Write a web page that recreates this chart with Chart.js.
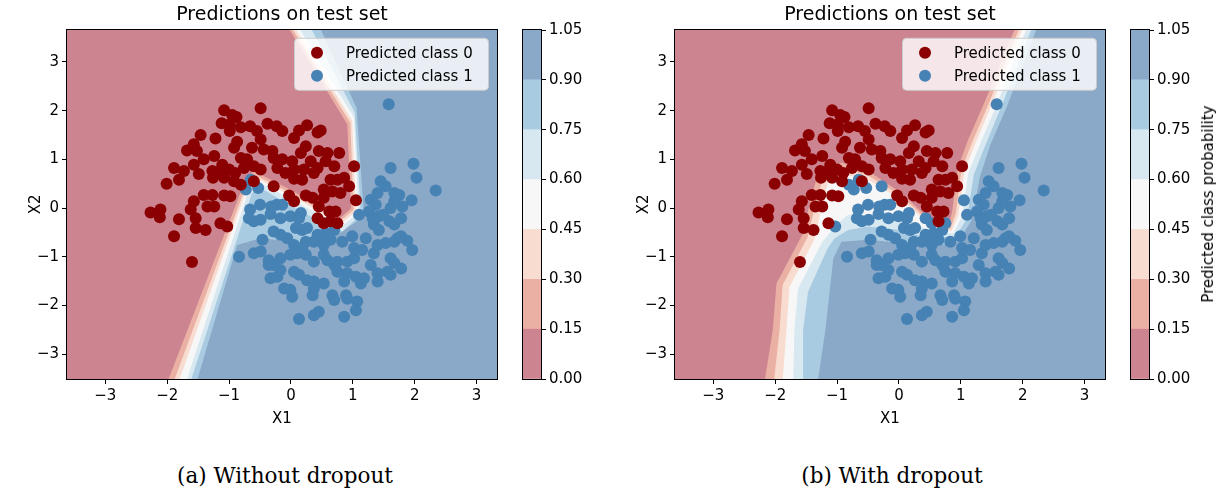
<!DOCTYPE html>
<html>
<head>
<meta charset="utf-8">
<script src="https://cdn.jsdelivr.net/npm/chart.js@4.4.0/dist/chart.umd.min.js"></script>
<style>
    body { margin: 0; background: #fff; width: 1224px; height: 495px; overflow: hidden; position: relative; }
    canvas { position: absolute; top: 0; }
    .cap { position: absolute; top: 463px; width: 400px; text-align: center; font-family: 'DejaVu Serif', serif; font-size: 21.5px; color: #000; }
    .cblabel { position: absolute; left: 1208px; top: 204px; transform: translate(-50%, -50%) rotate(-90deg); white-space: nowrap; font-family: 'DejaVu Sans', sans-serif; font-size: 15px; color: #000; }
</style>
</head>
<body>
<canvas id="plotA" width="515" height="440" style="left:0px"></canvas>
<canvas id="cbarA" width="100" height="440" style="left:500px"></canvas>
<canvas id="plotB" width="515" height="440" style="left:608px"></canvas>
<canvas id="cbarB" width="116" height="440" style="left:1108px"></canvas>
<div class="cblabel">Predicted class probability</div>
<div class="cap" style="left:85px">(a) Without dropout</div>
<div class="cap" style="left:692px">(b) With dropout</div>

<script>
// ---- data ----
const plotTitle = 'Predictions on test set';
const seriesLabels = ['Predicted class 0', 'Predicted class 1'];
const xTicks = [-3, -2, -1, 0, 1, 2, 3];
const yTicks = [-3, -2, -1, 0, 1, 2, 3];
const cbLevels = [0, 0.15, 0.30, 0.45, 0.60, 0.75, 0.90, 1.05];
const bandColors = ['#cc8490', '#ebb0a4', '#f8dcd0', '#f7f7f7', '#d8e8f1', '#a8cbe1', '#8aa8c7'];
const pointColors = ['#8b0000', '#4682b4'];

// test points predicted class 0 by both models
const redBoth = [
    [-1.08,2.01],[-0.49,2.05],[-0.95,1.91],[-0.88,1.87],[-1.12,1.74],[-0.99,1.72],[-0.81,1.66],[-0.66,1.68],
    [-0.38,1.73],[-0.23,1.68],[-0.14,1.58],[0.26,1.70],[0.13,1.59],[0.43,1.55],[0.48,1.59],[-1.46,1.50],
    [-1.22,1.43],[-0.99,1.58],[-0.55,1.58],[-0.49,1.41],[0.05,1.44],[0.24,1.27],[-0.87,1.36],[-0.92,1.24],
    [-0.63,1.24],[-0.44,1.20],[-0.30,1.17],[-1.57,1.31],[-1.68,1.18],[-1.52,1.17],[-1.24,1.07],[-1.11,0.89],
    [-1.41,1.00],[-1.57,0.89],[-0.81,1.03],[-0.71,1.00],[-0.28,1.03],[-0.14,1.00],[0.02,0.96],[0.16,1.13],
    [0.45,1.17],[0.59,1.13],[0.78,1.13],[0.32,0.96],[0.43,0.82],[0.56,0.96],[0.70,0.86],[1.02,0.86],
    [-1.89,0.82],[-1.73,0.76],[-1.49,0.70],[-1.27,0.76],[-1.26,0.62],[-1.15,0.76],[-1.08,0.62],[-1.00,0.79],
    [-0.90,0.72],[-0.76,0.82],[-0.60,0.86],[-0.49,0.79],[-0.22,0.82],[-0.09,0.72],[0.05,0.79],[0.21,0.79],
    [0.37,0.72],[-1.81,0.58],[-2.01,0.50],[-0.92,0.55],[-0.60,0.55],[0.05,0.60],[0.18,0.58],[0.64,0.58],
    [0.75,0.58],[0.86,0.62],[0.94,0.45],[0.53,0.38],[0.67,0.34],[0.80,0.31],[-1.41,0.27],[-1.27,0.27],
    [-1.08,0.26],[-0.98,0.24],[-0.03,0.26],[0.05,0.14],[0.24,0.26],[0.35,0.21],[0.53,0.21],[-1.57,0.14],
    [-1.35,0.03],[-1.24,0.03],[0.45,0.03],[0.62,-0.07],[0.72,-0.07],[-2.27,-0.09],[-2.11,-0.03],[-2.12,-0.19],
    [-1.81,-0.23],[-1.62,-0.03],[-1.54,-0.21],[-1.14,-0.31],[-1.54,-0.41],[-1.38,-0.45],[0.64,-0.27],[-1.89,-0.58],
    [-1.60,-1.11]
];

// predicted class 0 without dropout, class 1 with dropout
const flipped = [[-0.81,0.48],[-0.28,0.45],[1.05,0.16],[-1.03,-0.38],[0.43,-0.21],[0.53,-0.31],[0.75,-0.31]];

// test points predicted class 1 by both models
const blueBoth = [
    [1.58,2.13],[1.98,0.91],[1.61,0.82],[2.03,0.62],[2.34,0.36],[1.45,0.55],[1.53,0.45],[1.67,0.31],
    [1.75,0.27],[1.40,0.31],[1.29,0.17],[1.37,0.07],[1.95,0.16],[-0.65,0.58],[-0.73,0.38],[-0.53,0.41],
    [-0.50,0.07],[-0.66,-0.03],[-0.68,-0.21],[-0.60,-0.27],[-0.49,-0.24],[-0.32,0.03],[-0.23,0.07],[-0.14,0.07],
    [-0.33,-0.12],[-0.17,-0.21],[-0.01,-0.17],[0.16,-0.10],[0.13,-0.21],[0.08,-0.41],[0.18,-0.45],[0.26,-0.41],
    [0.43,-0.55],[0.56,-0.52],[0.70,-0.45],[1.10,-0.14],[1.26,-0.07],[1.32,-0.21],[1.42,-0.17],[1.49,-0.14],
    [1.59,-0.27],[1.67,-0.34],[1.78,-0.21],[1.61,0.00],[1.67,0.14],[1.80,0.03],[1.34,-0.34],[1.42,-0.45],
    [1.21,-0.62],[0.99,-0.58],[0.83,-0.69],[0.64,-0.65],[0.53,-0.76],[0.45,-0.62],[0.37,-0.69],[0.24,-0.69],
    [0.18,-0.82],[0.05,-0.76],[-0.06,-0.62],[-0.17,-0.55],[-0.28,-0.48],[-0.46,-0.65],[-0.60,-0.93],[-0.49,-0.89],
    [-0.84,-1.00],[-0.36,-1.07],[-0.28,-1.17],[-0.17,-1.03],[-0.01,-0.96],[0.10,-0.93],[0.24,-0.96],[0.37,-1.10],
    [0.53,-0.96],[0.59,-1.07],[0.75,-1.10],[0.91,-1.10],[1.02,-1.03],[1.02,-0.82],[1.15,-0.86],[1.34,-0.93],
    [1.40,-0.76],[1.53,-0.72],[1.67,-0.69],[1.72,-0.62],[1.88,-0.67],[1.96,-0.86],[1.78,-0.58],[1.61,-1.03],
    [1.67,-1.13],[1.78,-1.24],[1.56,-1.31],[1.40,-1.34],[1.29,-1.17],[1.18,-1.44],[1.05,-1.41],[0.91,-1.34],
    [0.86,-1.51],[0.75,-1.31],[0.70,-1.17],[0.53,-1.55],[0.37,-1.51],[0.26,-1.48],[0.13,-1.37],[0.05,-1.31],
    [-0.17,-1.27],[-0.33,-1.44],[-0.22,-1.41],[-0.36,-1.17],[-0.11,-1.65],[-0.01,-1.68],[0.02,-1.82],[0.37,-1.65],
    [0.35,-1.79],[0.67,-1.79],[0.70,-1.89],[0.89,-1.79],[0.91,-1.86],[1.07,-1.92],[1.05,-2.10],[0.86,-2.23],
    [0.45,-2.13],[0.37,-2.20],[0.13,-2.28],[1.40,-1.51],[1.61,-1.37],[1.13,-1.55]
];

// contour lines of the predicted probability, from top edge to bottom edge
// (a) without dropout: levels 0.15, 0.30, 0.45, 0.60, 0.75, 0.90
const contA15 = [[-0.04,3.7],[0.91,1.72],[0.97,-0.01],[0.78,-0.22],[0.05,0.34],[-0.61,0.76],[-0.77,0.47],[-1.99,-3.55]];
const contA30 = [[0.01,3.7],[0.96,1.75],[1.01,-0.04],[0.79,-0.27],[0.05,0.27],[-0.60,0.69],[-0.73,0.45],[-1.89,-3.55]];
const contA45 = [[0.06,3.7],[0.99,1.79],[1.05,-0.07],[0.80,-0.32],[0.05,0.22],[-0.59,0.63],[-0.71,0.41],[-1.81,-3.55]];
const contA60 = [[0.13,3.7],[1.02,1.86],[1.09,-0.10],[0.82,-0.38],[0.05,0.15],[-0.57,0.56],[-0.68,0.38],[-1.69,-3.55]];
const contA75 = [[0.32,3.7],[1.03,1.96],[1.13,-0.14],[0.83,-0.48],[0.16,-0.07],[-0.49,0.41],[-0.63,0.31],[-1.62,-3.55]];
const contA90 = [[0.47,3.7],[1.06,2.06],[1.18,-0.17],[0.59,-0.69],[0.05,-0.69],[-0.49,-0.62],[-0.87,-0.76],[-1.52,-3.55]];

// (b) with dropout
const contB15 = [[1.88,3.7],[1.38,2.16],[1.12,1.41],[0.95,0.82],[0.86,-0.07],[0.80,-0.38],[0.53,-0.27],[0.04,0.31],[-0.50,0.76],[-0.93,0.93],[-1.31,0.69],[-1.43,0.17],[-1.55,-0.52],[-1.98,-1.55],[-2.04,-2.51],[-2.17,-3.55]];
const contB30 = [[1.95,3.7],[1.45,2.14],[1.19,1.37],[1.01,0.79],[0.92,-0.10],[0.83,-0.43],[0.53,-0.33],[0.04,0.24],[-0.50,0.67],[-0.90,0.82],[-1.23,0.60],[-1.34,0.14],[-1.47,-0.58],[-1.88,-1.58],[-1.93,-2.51],[-2.02,-3.55]];
const contB45 = [[2.00,3.7],[1.50,2.13],[1.24,1.34],[1.06,0.76],[0.96,-0.14],[0.85,-0.47],[0.53,-0.38],[0.04,0.17],[-0.50,0.58],[-0.88,0.69],[-1.15,0.52],[-1.24,0.07],[-1.37,-0.65],[-1.77,-1.62],[-1.82,-2.51],[-1.88,-3.55]];
const contB60 = [[2.07,3.7],[1.58,2.12],[1.31,1.31],[1.12,0.72],[1.02,-0.17],[0.88,-0.52],[0.48,-0.45],[0.04,-0.21],[-0.50,-0.14],[-0.82,-0.14],[-1.01,-0.34],[-1.25,-0.72],[-1.63,-1.65],[-1.69,-2.51],[-1.71,-3.55]];
const contB75 = [[2.15,3.7],[1.66,2.10],[1.39,1.27],[1.21,0.69],[1.10,-0.21],[0.92,-0.58],[0.48,-0.62],[0.04,-0.45],[-0.50,-0.38],[-0.82,-0.45],[-1.04,-0.62],[-1.15,-0.82],[-1.47,-1.72],[-1.55,-2.51],[-1.55,-3.55]];
const contB90 = [[2.23,3.7],[1.75,2.10],[1.48,1.31],[1.31,0.65],[1.18,-0.24],[0.96,-0.69],[0.53,-0.79],[0.04,-0.72],[-0.50,-0.65],[-0.93,-0.69],[-1.06,-1.03],[-1.19,-2.51],[-1.31,-3.55]];

const xRange = [-3.62, 3.33];
const yRange = [-3.51, 3.66];

// ---- chart helpers ----
Chart.defaults.font.family = "'DejaVu Sans', sans-serif";
Chart.defaults.font.size = 15;
Chart.defaults.color = '#000';

const toXY = pts => pts.map(([x, y]) => ({x, y}));
const fmtTick = v => (v < 0 ? '\u2212' + Math.abs(v) : String(v));

// fills the probability bands below the points
function contourPlugin(lines) {
    return {
        id: 'contourFill',
        beforeDatasetsDraw(chart) {
            const {ctx, chartArea: a, scales: {x, y}} = chart;
            ctx.save();
            ctx.beginPath();
            ctx.rect(a.left, a.top, a.width, a.height);
            ctx.clip();
            ctx.fillStyle = bandColors[bandColors.length - 1];
            ctx.fillRect(a.left, a.top, a.width, a.height);
            const left = x.getPixelForValue(x.min) - 5;
            for (let i = lines.length - 1; i >= 0; i--) {
                const line = lines[i];
                ctx.beginPath();
                line.forEach(([px, py], k) => {
                    const X = x.getPixelForValue(px), Y = y.getPixelForValue(py);
                    if (k === 0) ctx.moveTo(X, Y); else ctx.lineTo(X, Y);
                });
                ctx.lineTo(left, y.getPixelForValue(line[line.length - 1][1]));
                ctx.lineTo(left, y.getPixelForValue(line[0][1]));
                ctx.closePath();
                ctx.fillStyle = bandColors[i];
                ctx.fill();
            }
            ctx.restore();
        }
    };
}

const framePlugin = {
    id: 'frame',
    afterDraw(chart) {
        const {ctx, chartArea: a} = chart;
        ctx.save();
        ctx.strokeStyle = '#000';
        ctx.lineWidth = 1;
        ctx.strokeRect(Math.round(a.left) - 0.5, Math.round(a.top) - 0.5, Math.round(a.width) + 1, Math.round(a.height) + 1);
        ctx.restore();
    }
};

// matplotlib-like legend box in the upper right corner
const legendPlugin = {
    id: 'legendBox',
    afterDatasetsDraw(chart) {
        const {ctx, chartArea: a} = chart;
        const w = 194, h = 52;
        const x0 = a.right - w - 9, y0 = a.top + 8;
        ctx.save();
        ctx.beginPath();
        if (ctx.roundRect) ctx.roundRect(x0 + 0.5, y0 + 0.5, w, h, 4); else ctx.rect(x0 + 0.5, y0 + 0.5, w, h);
        ctx.fillStyle = 'rgba(255,255,255,0.8)';
        ctx.fill();
        ctx.strokeStyle = '#cccccc';
        ctx.lineWidth = 1;
        ctx.stroke();
        ctx.font = "15px 'DejaVu Sans'";
        ctx.textBaseline = 'middle';
        chart.data.datasets.forEach((ds, i) => {
            const cy = y0 + 15 + i * 23;
            ctx.beginPath();
            ctx.arc(x0 + 23, cy, 6, 0, Math.PI * 2);
            ctx.fillStyle = ds.backgroundColor;
            ctx.fill();
            ctx.fillStyle = '#000';
            ctx.fillText(ds.label, x0 + 52, cy + 1);
        });
        ctx.restore();
    }
};

function makePlot(id, class0, class1, lines) {
    const axisCommon = {
        type: 'linear',
        grid: { drawOnChartArea: false, tickLength: 5, color: '#000' },
        border: { display: false },
        ticks: { padding: 3, callback: fmtTick }
    };
    return new Chart(document.getElementById(id), {
        type: 'scatter',
        data: {
            datasets: [
                { label: seriesLabels[0], data: toXY(class0), backgroundColor: pointColors[0], borderWidth: 0, pointRadius: 6 },
                { label: seriesLabels[1], data: toXY(class1), backgroundColor: pointColors[1], borderWidth: 0, pointRadius: 6 }
            ]
        },
        options: {
            responsive: false,
            animation: false,
            events: [],
            layout: { padding: { left: 0, right: 18, top: 0, bottom: 0 } },
            plugins: {
                legend: { display: false },
                tooltip: { enabled: false },
                title: {
                    display: true,
                    text: plotTitle,
                    fullSize: false,
                    font: { size: 19, weight: 'normal' },
                    padding: { top: 4, bottom: 3 }
                }
            },
            scales: {
                x: {
                    ...axisCommon,
                    min: xRange[0], max: xRange[1],
                    afterBuildTicks: s => { s.ticks = xTicks.map(v => ({ value: v })); },
                    afterFit: s => { s.height = 61; },
                    title: { display: true, text: 'X1', padding: { top: 12, bottom: 12 } }
                },
                y: {
                    ...axisCommon,
                    min: yRange[0], max: yRange[1],
                    afterBuildTicks: s => { s.ticks = yTicks.map(v => ({ value: v })); },
                    afterFit: s => { s.width = 67; },
                    title: { display: true, text: 'X2', padding: { top: 27, bottom: 27 } }
                }
            }
        },
        plugins: [contourPlugin(lines), legendPlugin, framePlugin]
    });
}

function makeColorbar(id, axisWidth) {
    return new Chart(document.getElementById(id), {
        type: 'bar',
        data: {
            labels: [''],
            datasets: bandColors.map((c, i) => ({
                data: [[cbLevels[i], cbLevels[i + 1]]],
                backgroundColor: c,
                borderWidth: 0,
                grouped: false,
                barPercentage: 1,
                categoryPercentage: 1
            }))
        },
        options: {
            responsive: false,
            animation: false,
            events: [],
            layout: { padding: { left: 23, right: 0, top: 30, bottom: 61 } },
            plugins: { legend: { display: false }, tooltip: { enabled: false } },
            scales: {
                x: { display: false },
                y: {
                    position: 'right',
                    min: cbLevels[0], max: cbLevels[cbLevels.length - 1],
                    afterBuildTicks: s => { s.ticks = cbLevels.map(v => ({ value: v })); },
                    afterFit: s => { s.width = axisWidth; },
                    grid: { drawOnChartArea: false, tickLength: 5, color: '#000' },
                    border: { display: false },
                    ticks: { padding: 3, callback: v => Number(v).toFixed(2) }
                }
            }
        },
        plugins: [framePlugin]
    });
}

makePlot('plotA', redBoth.concat(flipped), blueBoth,
    [contA15, contA30, contA45, contA60, contA75, contA90]);
makePlot('plotB', redBoth, blueBoth.concat(flipped),
    [contB15, contB30, contB45, contB60, contB75, contB90]);
makeColorbar('cbarA', 59);
makeColorbar('cbarB', 75);
</script>
</body>
</html>
